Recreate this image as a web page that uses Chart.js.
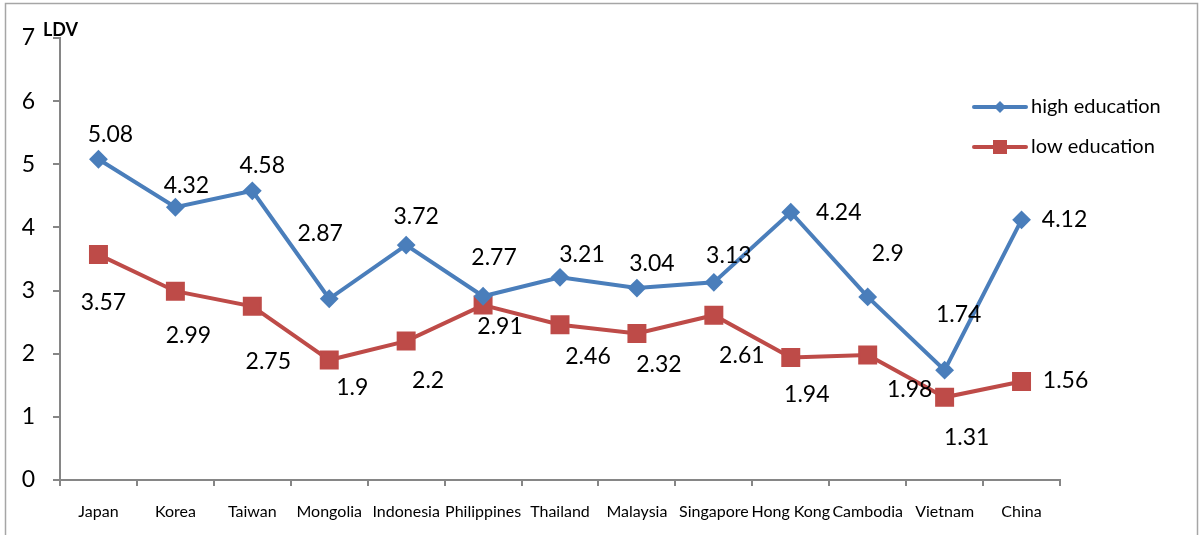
<!DOCTYPE html>
<html>
<head>
<meta charset="utf-8">
<script src="https://cdn.jsdelivr.net/npm/chart.js@4.4.0/dist/chart.umd.min.js"></script>
<style>
html,body{margin:0;padding:0;background:#fff;}
#wrap{position:relative;width:1200px;height:535px;}
canvas{display:block;}
</style>
</head>
<body>
<div id="wrap"><canvas id="c" width="1200" height="535"></canvas></div>
<script>
// ---- data ----
const categories = ["Japan","Korea","Taiwan","Mongolia","Indonesia","Philippines","Thailand","Malaysia","Singapore","Hong Kong","Cambodia","Vietnam","China"];
const highEducation = [5.08, 4.32, 4.58, 2.87, 3.72, 2.91, 3.21, 3.04, 3.13, 4.24, 2.9, 1.74, 4.12];
const lowEducation  = [3.57, 2.99, 2.75, 1.9, 2.2, 2.77, 2.46, 2.32, 2.61, 1.94, 1.98, 1.31, 1.56];
// label texts as printed in the original (Philippines labels appear swapped there)
const highLabels = ["5.08","4.32","4.58","2.87","3.72","2.77","3.21","3.04","3.13","4.24","2.9","1.74","4.12"];
const lowLabels  = ["3.57","2.99","2.75","1.9","2.2","2.91","2.46","2.32","2.61","1.94","1.98","1.31","1.56"];
const seriesNames = ["high education","low education"];
const yTicks = [0,1,2,3,4,5,6,7];

// ---- label placement (style) ----
const highOffsets = [[12,-25],[11,-22],[10,-25],[-9,-65],[10,-29],[11,-39],[22,-23],[15,-24],[15,-27],[48,0],[20,-43],[14,-56],[43,0]];
const lowOffsets  = [[5,48],[13,44],[16,55],[23,28],[22,39],[17,21],[28,32],[22,31],[28,40],[16,37],[42,35],[22,40],[44,-1]];

const BLUE = '#4A7EBB';
const RED = '#BE4B48';
const FONT = 'Lato, "Open Sans", sans-serif';

const frame = {
  id: 'frame',
  beforeDraw(chart) {
    const ctx = chart.ctx;
    ctx.save();
    ctx.fillStyle = '#fff';
    ctx.fillRect(0,0,chart.width,chart.height);
    ctx.strokeStyle = '#A6A6A6';
    ctx.lineWidth = 1.5;
    ctx.strokeRect(5.5, 3.5, 1192, 540);
    ctx.restore();
  },
  afterDraw(chart) {
    const ctx = chart.ctx;
    ctx.save();
    // axis title
    ctx.fillStyle = '#000';
    ctx.font = 'bold 18px ' + FONT;
    ctx.textAlign = 'left';
    ctx.textBaseline = 'middle';
    ctx.fillText('LDV', 43, 30);
    // legend
    const items = [
      {name: seriesNames[0], color: BLUE, shape: 'diamond', y: 107},
      {name: seriesNames[1], color: RED, shape: 'square', y: 147}
    ];
    items.forEach(it => {
      ctx.strokeStyle = it.color;
      ctx.lineWidth = 4;
      ctx.lineCap = 'round';
      ctx.beginPath();
      ctx.moveTo(974, it.y);
      ctx.lineTo(1026, it.y);
      ctx.stroke();
      ctx.fillStyle = it.color;
      ctx.beginPath();
      if (it.shape === 'diamond') {
        ctx.moveTo(1000, it.y-6); ctx.lineTo(1006, it.y); ctx.lineTo(1000, it.y+6); ctx.lineTo(994, it.y);
      } else {
        ctx.rect(993, it.y-7, 14, 14);
      }
      ctx.closePath();
      ctx.fill();
      ctx.fillStyle = '#000';
      ctx.font = '20px ' + FONT;
      ctx.textAlign = 'left';
      ctx.textBaseline = 'middle';
      ctx.fillText(it.name, 1031, it.y);
    });
    ctx.restore();
  },
  afterDatasetsDraw(chart) {
    const ctx = chart.ctx;
    ctx.save();
    ctx.fillStyle = '#000';
    ctx.font = '23px ' + FONT;
    ctx.textAlign = 'center';
    ctx.textBaseline = 'middle';
    const sets = [[highLabels, highOffsets],[lowLabels, lowOffsets]];
    sets.forEach((s, di) => {
      const meta = chart.getDatasetMeta(di);
      meta.data.forEach((pt, i) => {
        ctx.fillText(s[0][i], pt.x + s[1][i][0], pt.y + s[1][i][1]);
      });
    });
    ctx.restore();
  }
};

new Chart(document.getElementById('c'), {
  type: 'line',
  data: {
    labels: categories,
    datasets: [
      {
        label: seriesNames[0], data: highEducation,
        borderColor: BLUE, backgroundColor: BLUE, borderWidth: 4,
        pointStyle: 'rectRot', pointRadius: 8, pointBorderWidth: 2,
        pointBackgroundColor: BLUE, pointBorderColor: BLUE, tension: 0
      },
      {
        label: seriesNames[1], data: lowEducation,
        borderColor: RED, backgroundColor: RED, borderWidth: 4,
        pointStyle: 'rect', pointRadius: 12, pointBorderWidth: 2,
        pointBackgroundColor: RED, pointBorderColor: RED, tension: 0
      }
    ]
  },
  options: {
    responsive: false,
    animation: false,
    devicePixelRatio: 1,
    layout: {padding: {left: 0, top: 38, right: 140, bottom: 0}},
    plugins: {legend: {display: false}, tooltip: {enabled: false}},
    scales: {
      x: {
        offset: true,
        grid: {display: true, offset: true, drawOnChartArea: false, drawTicks: true, tickLength: 6, color: '#868686', lineWidth: 2},
        border: {display: true, color: '#868686', width: 2},
        ticks: {color: '#000', font: {family: FONT, size: 16}, padding: 16, maxRotation: 0, autoSkip: false},
        afterFit(scale) { scale.height = 55; }
      },
      y: {
        min: 0, max: 7,
        afterBuildTicks(scale) { scale.ticks = yTicks.map(v => ({value: v})); },
        grid: {display: true, drawOnChartArea: false, drawTicks: true, tickLength: 7, color: '#868686', lineWidth: 2},
        border: {display: true, color: '#868686', width: 2},
        ticks: {color: '#000', font: {family: FONT, size: 23}, padding: 18},
        afterFit(scale) { scale.width = 60; }
      }
    }
  },
  plugins: [frame]
});
</script>
</body>
</html>
